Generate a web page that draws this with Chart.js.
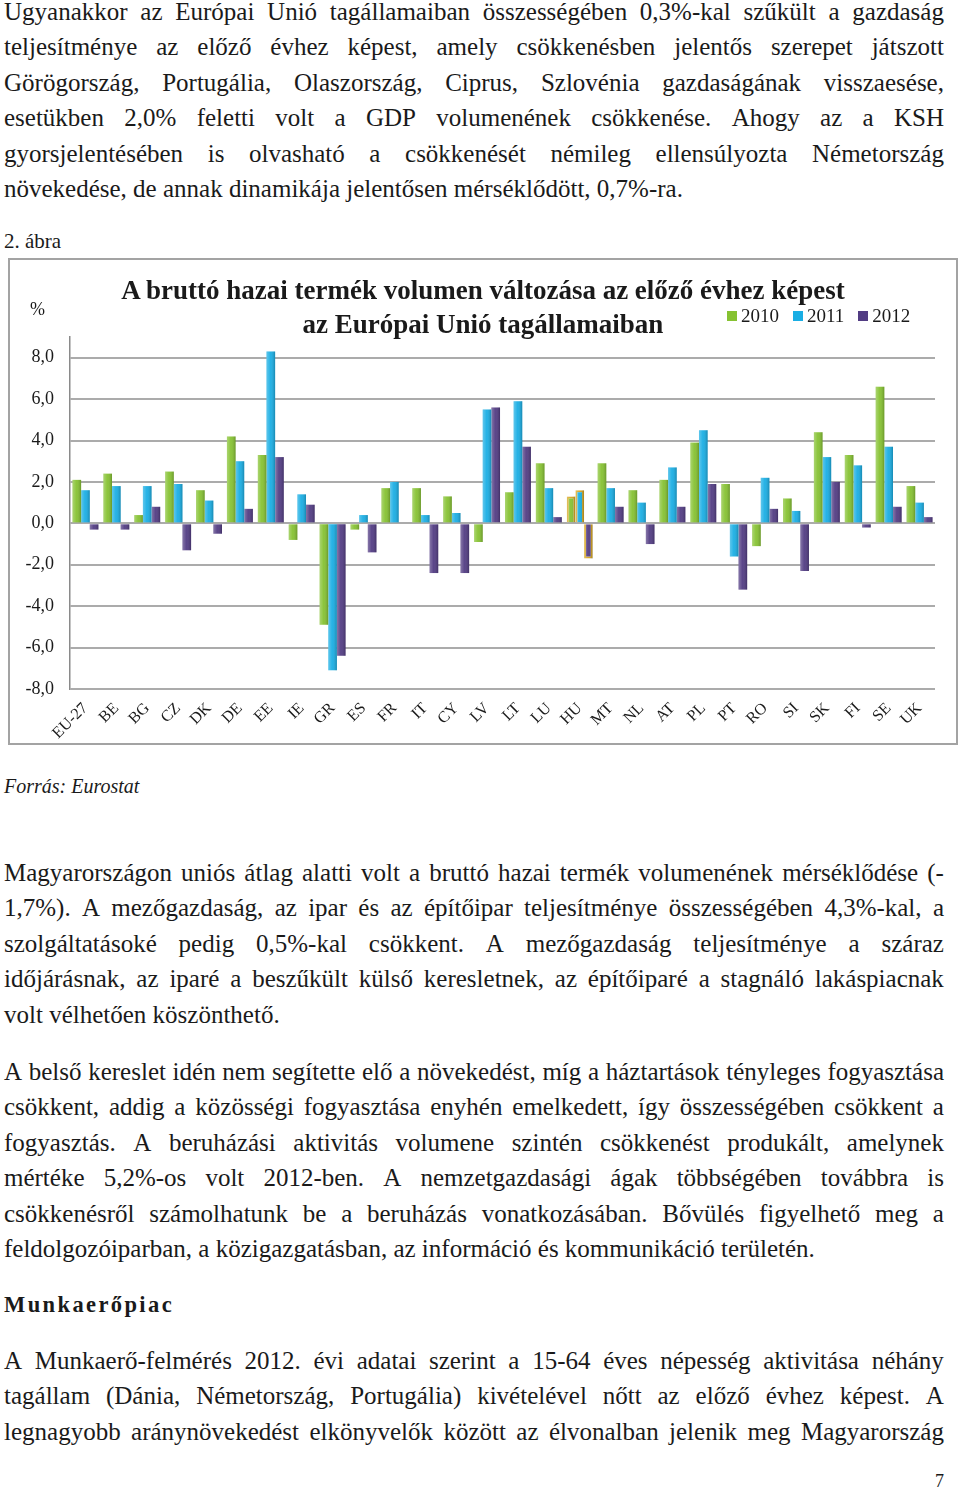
<!DOCTYPE html>
<html lang="hu">
<head>
<meta charset="utf-8">
<title>GDP volumen változása</title>
<script src="https://cdn.jsdelivr.net/npm/chart.js@4.4.1/dist/chart.umd.min.js"></script>
<style>
  html, body { margin: 0; padding: 0; background: #fff; }
  body { width: 960px; height: 1490px; position: relative; overflow: hidden; font-family: "Liberation Serif", serif; color: #1a1a1a; }
  .block { position: absolute; left: 4px; width: 940px; font-size: 25px; }
  .line { height: 35.4px; line-height: 35.4px; white-space: nowrap; }
  .j { display: flex; justify-content: space-between; }
  .caption { position: absolute; left: 4px; font-size: 21px; }
  .frame { position: absolute; left: 8px; top: 258px; width: 950px; height: 487px; box-sizing: border-box; border: 2px solid #a3a3a3; }
  .chartBox { position: absolute; left: 10px; top: 260px; width: 946px; height: 483px; }
  .chartTitle { position: absolute; left: 8px; top: 273px; width: 950px; text-align: center; font-weight: bold; font-size: 27px; line-height: 34px; }
  .unit { position: absolute; left: 30px; top: 299px; font-size: 18px; }
  .legend { position: absolute; left: 727px; top: 305px; font-size: 19px; line-height: 22px; white-space: nowrap; }
  .legend span.item { display: inline-block; margin-right: 14px; }
  .legend span.box { display: inline-block; width: 10px; height: 10px; margin-right: 4px; vertical-align: 1px; }
  .heading { position: absolute; left: 4px; top: 1287px; font-size: 22.5px; font-weight: bold; letter-spacing: 2.4px; line-height: 35px; }
  .pageNo { position: absolute; left: 935px; top: 1471px; font-size: 18px; }
</style>
</head>
<body>

<div class="block" style="top: -6px;">
  <div class="line j">Ugyanakkor az Európai Unió tagállamaiban összességében 0,3%-kal szűkült a gazdaság</div>
  <div class="line j">teljesítménye az előző évhez képest, amely csökkenésben jelentős szerepet játszott</div>
  <div class="line j">Görögország, Portugália, Olaszország, Ciprus, Szlovénia gazdaságának visszaesése,</div>
  <div class="line j">esetükben 2,0% feletti volt a GDP volumenének csökkenése. Ahogy az a KSH</div>
  <div class="line j">gyorsjelentésében is olvasható a csökkenését némileg ellensúlyozta Németország</div>
  <div class="line">növekedése, de annak dinamikája jelentősen mérséklődött, 0,7%-ra.</div>
</div>

<div class="caption" style="top: 229px;">2. ábra</div>

<div class="frame"></div>
<div class="chartBox"><canvas id="gdpChart"></canvas></div>
<div class="chartTitle">A bruttó hazai termék volumen változása az előző évhez képest<br>az Európai Unió tagállamaiban</div>
<div class="unit">%</div>
<div class="legend" id="chartLegend"></div>

<div class="caption" style="top: 775px; font-style: italic; font-size: 20px;">Forrás: Eurostat</div>

<div class="block" style="top: 855px;">
  <div class="line j">Magyarországon uniós átlag alatti volt a bruttó hazai termék volumenének mérséklődése (-</div>
  <div class="line j">1,7%). A mezőgazdaság, az ipar és az építőipar teljesítménye összességében 4,3%-kal, a</div>
  <div class="line j">szolgáltatásoké pedig 0,5%-kal csökkent. A mezőgazdaság teljesítménye a száraz</div>
  <div class="line j">időjárásnak, az iparé a beszűkült külső keresletnek, az építőiparé a stagnáló lakáspiacnak</div>
  <div class="line">volt vélhetően köszönthető.</div>
</div>

<div class="block" style="top: 1054px;">
  <div class="line j">A belső kereslet idén nem segítette elő a növekedést, míg a háztartások tényleges fogyasztása</div>
  <div class="line j">csökkent, addig a közösségi fogyasztása enyhén emelkedett, így összességében csökkent a</div>
  <div class="line j">fogyasztás. A beruházási aktivitás volumene szintén csökkenést produkált, amelynek</div>
  <div class="line j">mértéke 5,2%-os volt 2012-ben. A nemzetgazdasági ágak többségében továbbra is</div>
  <div class="line j">csökkenésről számolhatunk be a beruházás vonatkozásában. Bővülés figyelhető meg a</div>
  <div class="line">feldolgozóiparban, a közigazgatásban, az információ és kommunikáció területén.</div>
</div>

<div class="heading">Munkaerőpiac</div>

<div class="block" style="top: 1343px;">
  <div class="line j">A Munkaerő-felmérés 2012. évi adatai szerint a 15-64 éves népesség aktivitása néhány</div>
  <div class="line j">tagállam (Dánia, Németország, Portugália) kivételével nőtt az előző évhez képest. A</div>
  <div class="line j">legnagyobb aránynövekedést elkönyvelők között az élvonalban jelenik meg Magyarország</div>
</div>

<div class="pageNo">7</div>

<script>
// GDP volume change vs previous year, EU member states (%)

// Chart data
const countries = ["EU-27", "BE", "BG", "CZ", "DK", "DE", "EE", "IE", "GR", "ES", "FR", "IT", "CY", "LV",
  "LT", "LU", "HU", "MT", "NL", "AT", "PL", "PT", "RO", "SI", "SK", "FI", "SE", "UK"]
const years = ["2010", "2011", "2012"]
const values2010 = [2.1, 2.4, 0.4, 2.5, 1.6, 4.2, 3.3, -0.8, -4.9, -0.3, 1.7, 1.7, 1.3, -0.9,
  1.5, 2.9, 1.3, 2.9, 1.6, 2.1, 3.9, 1.9, -1.1, 1.2, 4.4, 3.3, 6.6, 1.8]
const values2011 = [1.6, 1.8, 1.8, 1.9, 1.1, 3.0, 8.3, 1.4, -7.1, 0.4, 2.0, 0.4, 0.5, 5.5,
  5.9, 1.7, 1.6, 1.7, 1.0, 2.7, 4.5, -1.6, 2.2, 0.6, 3.2, 2.8, 3.7, 1.0]
const values2012 = [-0.3, -0.3, 0.8, -1.3, -0.5, 0.7, 3.2, 0.9, -6.4, -1.4, 0.0, -2.4, -2.4, 5.6,
  3.7, 0.3, -1.7, 0.8, -1.0, 0.8, 1.9, -3.2, 0.7, -2.3, 2.0, -0.2, 0.8, 0.3]
const yTicks = [-8, -6, -4, -2, 0, 2, 4, 6, 8]
const highlight = "HU"

const seriesColors = ["#86c232", "#1aaee4", "#523c83"]

// Justified text lines: spread the words across the full line width
document.querySelectorAll(".line.j").forEach((line) => {
  const words = line.textContent.trim().split(/\s+/)
  line.textContent = ""
  words.forEach((w) => {
    const s = document.createElement("span")
    s.textContent = w
    line.appendChild(s)
  })
})

// Slight cylinder-like shading over each bar
const barShade = {
  id: "barShade",
  afterDatasetsDraw(chart) {
    const ctx = chart.ctx
    ctx.save()
    chart.data.datasets.forEach((ds, i) => {
      chart.getDatasetMeta(i).data.forEach((bar) => {
        const p = bar.getProps(["x", "y", "base", "width"], true)
        const left = p.x - p.width / 2
        const g = ctx.createLinearGradient(left, 0, left + p.width, 0)
        g.addColorStop(0, "rgba(255,255,255,0.30)")
        g.addColorStop(0.45, "rgba(255,255,255,0.05)")
        g.addColorStop(1, "rgba(0,0,0,0.22)")
        ctx.fillStyle = g
        ctx.fillRect(left, Math.min(p.y, p.base), p.width, Math.abs(p.base - p.y))
      })
    })
    ctx.restore()
  },
}

function makeDataset(label, data, color) {
  return {
    label: label,
    data: data,
    backgroundColor: color,
    borderColor: (c) => (countries[c.dataIndex] === highlight ? "#d6a51f" : color),
    borderWidth: (c) => (countries[c.dataIndex] === highlight ? 2 : 0),
    categoryPercentage: 0.84,
    barPercentage: 1.0,
  }
}

const datasets = [
  makeDataset(years[0], values2010, seriesColors[0]),
  makeDataset(years[1], values2011, seriesColors[1]),
  makeDataset(years[2], values2012, seriesColors[2]),
]

const chart = new Chart(document.getElementById("gdpChart"), {
  type: "bar",
  data: { labels: countries, datasets: datasets },
  plugins: [barShade],
  options: {
    responsive: true,
    maintainAspectRatio: false,
    animation: false,
    layout: { padding: { top: 77, right: 21, bottom: 0, left: 0 } },
    plugins: {
      legend: { display: false },
      title: { display: false },
      tooltip: { enabled: false },
    },
    scales: {
      x: {
        grid: { display: false },
        border: { display: false },
        ticks: {
          color: "#1a1a1a",
          font: { family: "Liberation Serif", size: 16 },
          autoSkip: false,
          minRotation: 45,
          maxRotation: 45,
          padding: 2,
        },
        afterFit: (scale) => { scale.height = 54 },
      },
      y: {
        min: -8,
        max: 9,
        afterBuildTicks: (scale) => { scale.ticks = yTicks.map((v) => ({ value: v })) },
        grid: { color: "#ababab", lineWidth: 2, drawTicks: false },
        border: { display: true, color: "#8a8a8a", width: 1.5 },
        ticks: {
          color: "#1a1a1a",
          font: { family: "Liberation Serif", size: 18 },
          padding: 16,
          callback: (v) => v.toFixed(1).replace(".", ","),
        },
        afterFit: (scale) => { scale.width = 60 },
      },
    },
  },
})

// Legend built from the chart datasets
const legendEl = document.getElementById("chartLegend")
chart.data.datasets.forEach((ds) => {
  const item = document.createElement("span")
  item.className = "item"
  const box = document.createElement("span")
  box.className = "box"
  box.style.background = ds.backgroundColor
  item.appendChild(box)
  item.appendChild(document.createTextNode(ds.label))
  legendEl.appendChild(item)
})
</script>
</body>
</html>
